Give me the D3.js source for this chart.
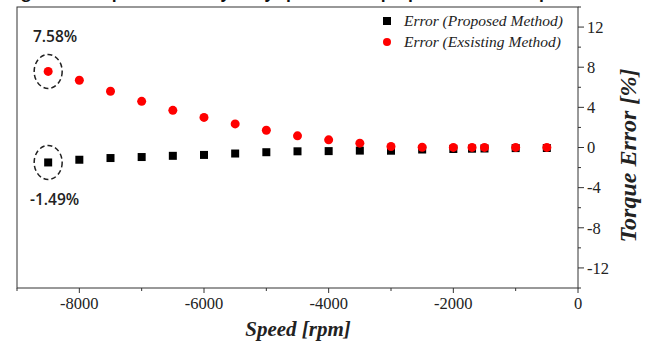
<!DOCTYPE html>
<html>
<head>
<meta charset="utf-8">
<script src="https://cdn.jsdelivr.net/npm/d3@7"></script>
<style>
  body { margin: 0; background: #fff; }
  svg { display: block; }
  .tick-label { font-family: 'Liberation Serif', 'Times New Roman', serif; font-size: 16.5px; fill: #222; }
  .axis-title { font-family: 'Liberation Serif', 'Times New Roman', serif; font-weight: bold; font-style: italic; fill: #222; }
  .legend text { font-family: 'Liberation Serif', 'Times New Roman', serif; font-style: italic; font-size: 15.5px; fill: #222; }
  .note { font-family: 'Open Sans', 'DejaVu Sans', sans-serif; font-weight: 600; font-size: 15.5px; fill: #222; }
</style>
</head>
<body>
<div id="chart"></div>
<script>
const speeds = [-8500, -8000, -7500, -7000, -6500, -6000, -5500, -5000, -4500, -4000, -3500, -3000, -2500, -2000, -1700, -1500, -1000, -500]
const errProposed = [-1.49, -1.22, -1.05, -0.95, -0.83, -0.74, -0.6, -0.47, -0.38, -0.36, -0.31, -0.32, -0.2, -0.15, -0.12, -0.1, -0.06, -0.05]
const errExisting = [7.58, 6.7, 5.6, 4.6, 3.7, 3.0, 2.35, 1.72, 1.16, 0.76, 0.43, 0.1, 0.02, 0.01, 0.01, 0.01, 0.01, 0.01]

const xMajor = [-8000, -6000, -4000, -2000, 0]
const xMinor = [-9000, -7000, -5000, -3000, -1000]
const yMajor = [12, 8, 4, 0, -4, -8, -12]
const yMinor = [14, 10, 6, 2, -2, -6, -10, -14]

const legendLabels = ['Error (Proposed Method)', 'Error (Exsisting Method)']

const W = 651, H = 343
const box = { left: 17, right: 578, top: 7, bottom: 288 }

const svg = d3.select('#chart').append('svg')
  .attr('width', W)
  .attr('height', H)

// caption above the chart, mostly out of frame
svg.append('text')
  .attr('x', 8)
  .attr('y', -2)
  .attr('font-family', "'Open Sans', sans-serif")
  .attr('font-weight', 'bold')
  .attr('font-size', 16)
  .attr('fill', '#111')
  .text('Figure 7. Torque error analysis by speed of the proposed method [rpm]')

const x = d3.scaleLinear().domain([-9000, 0]).range([box.left, box.right])
const y = d3.scaleLinear().domain([-14, 14]).range([box.bottom, box.top])

// frame
svg.append('rect')
  .attr('x', box.left)
  .attr('y', box.top)
  .attr('width', box.right - box.left)
  .attr('height', box.bottom - box.top)
  .attr('fill', 'none')
  .attr('stroke', '#333')
  .attr('stroke-width', 1)

// x axis (bottom)
let gx = svg.append('g').attr('transform', 'translate(0,' + box.bottom + ')')
gx.selectAll('.major').data(xMajor).enter().append('line')
  .attr('x1', (d) => x(d)).attr('x2', (d) => x(d))
  .attr('y1', 0).attr('y2', 5)
  .attr('stroke', '#333')
gx.selectAll('.minor').data(xMinor).enter().append('line')
  .attr('x1', (d) => x(d)).attr('x2', (d) => x(d))
  .attr('y1', 0).attr('y2', 3)
  .attr('stroke', '#333')
gx.selectAll('text').data(xMajor).enter().append('text')
  .attr('class', 'tick-label')
  .attr('x', (d) => x(d))
  .attr('y', 21)
  .attr('text-anchor', 'middle')
  .text((d) => d)

// y axis (right)
let gy = svg.append('g').attr('transform', 'translate(' + box.right + ',0)')
gy.selectAll('.major').data(yMajor).enter().append('line')
  .attr('y1', (d) => y(d)).attr('y2', (d) => y(d))
  .attr('x1', 0).attr('x2', 6)
  .attr('stroke', '#333')
gy.selectAll('.minor').data(yMinor).enter().append('line')
  .attr('y1', (d) => y(d)).attr('y2', (d) => y(d))
  .attr('x1', 0).attr('x2', 3)
  .attr('stroke', '#333')
gy.selectAll('text').data(yMajor).enter().append('text')
  .attr('class', 'tick-label')
  .attr('x', 9)
  .attr('y', (d) => y(d))
  .attr('dy', '0.35em')
  .text((d) => d)

// axis titles
svg.append('text')
  .attr('class', 'axis-title')
  .attr('x', 298)
  .attr('y', 336)
  .attr('text-anchor', 'middle')
  .attr('font-size', 21)
  .text('Speed [rpm]')

svg.append('text')
  .attr('class', 'axis-title')
  .attr('transform', 'translate(636,' + (y(0) + 8) + ') rotate(-90)')
  .attr('text-anchor', 'middle')
  .attr('font-size', 24)
  .text('Torque Error [%]')

// series
svg.append('g').selectAll('rect')
  .data(speeds.map((s, i) => [s, errProposed[i]]))
  .enter().append('rect')
    .attr('x', (d) => x(d[0]) - 4)
    .attr('y', (d) => y(d[1]) - 4)
    .attr('width', 8)
    .attr('height', 8)
    .attr('fill', '#000')

svg.append('g').selectAll('circle')
  .data(speeds.map((s, i) => [s, errExisting[i]]))
  .enter().append('circle')
    .attr('cx', (d) => x(d[0]))
    .attr('cy', (d) => y(d[1]))
    .attr('r', 4.5)
    .attr('fill', '#ff0000')

// annotations on first points
let first = [[speeds[0], errExisting[0]], [speeds[0], errProposed[0]]]
svg.append('g').selectAll('ellipse')
  .data(first)
  .enter().append('ellipse')
    .attr('cx', (d) => x(d[0]))
    .attr('cy', (d) => y(d[1]))
    .attr('rx', 14)
    .attr('ry', 17)
    .attr('fill', 'none')
    .attr('stroke', '#222')
    .attr('stroke-width', 1.5)
    .attr('stroke-dasharray', '5,3')

svg.append('text')
  .attr('class', 'note')
  .attr('x', 33)
  .attr('y', 42)
  .text(errExisting[0].toFixed(2) + '%')

svg.append('text')
  .attr('class', 'note')
  .attr('x', 30)
  .attr('y', 205)
  .text(errProposed[0].toFixed(2) + '%')

// legend
let legend = svg.append('g').attr('class', 'legend')
legend.append('rect')
  .attr('x', 383).attr('y', 17).attr('width', 8).attr('height', 8)
  .attr('fill', '#000')
legend.append('circle')
  .attr('cx', 387).attr('cy', 42).attr('r', 4)
  .attr('fill', '#ff0000')
legend.selectAll('text').data(legendLabels).enter().append('text')
  .attr('x', 404)
  .attr('y', (d, i) => 26 + i * 21)
  .text((d) => d)
</script>
</body>
</html>
